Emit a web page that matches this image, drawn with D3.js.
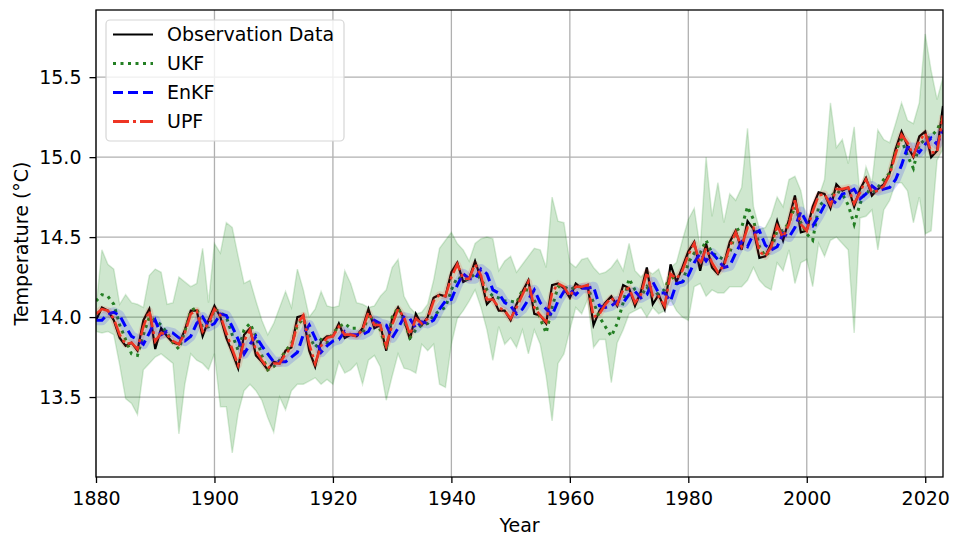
<!DOCTYPE html>
<html><head><meta charset="utf-8">
<script src="https://cdn.jsdelivr.net/npm/d3@7"></script>
<style>body{margin:0;background:#fff;} text{font-family:"DejaVu Sans",sans-serif;}</style>
</head><body><svg id="c" width="953" height="538"></svg>
<script>
const startYear = 1880;
const obsData = [
13.98,14.06,14.04,13.98,13.87,13.82,13.84,13.79,13.98,14.05,
13.80,13.93,13.88,13.84,13.83,13.92,14.04,14.04,13.88,13.98,
14.07,14.00,13.87,13.78,13.68,13.89,13.93,13.76,13.72,13.67,
13.72,13.71,13.79,13.81,14.00,14.01,13.79,13.69,13.85,13.88,
13.88,13.96,13.87,13.89,13.88,13.93,14.05,13.93,13.95,13.79,
13.99,14.06,13.99,13.86,14.02,13.95,14.00,14.12,14.14,14.13,
14.28,14.34,14.22,14.24,14.35,14.24,14.08,14.12,14.04,14.04,
13.98,14.08,14.16,14.23,14.02,14.01,13.96,14.20,14.21,14.18,
14.12,14.21,14.18,14.20,13.95,14.04,14.09,14.13,14.07,14.20,
14.18,14.07,14.16,14.31,14.08,14.14,14.05,14.33,14.22,14.31,
14.41,14.47,14.29,14.46,14.31,14.27,14.33,14.47,14.54,14.42,
14.60,14.55,14.37,14.38,14.46,14.60,14.48,14.61,14.76,14.53,
14.54,14.69,14.78,14.77,14.68,14.83,14.79,14.81,14.69,14.80,
14.87,14.76,14.80,14.83,14.90,15.05,15.16,15.07,15.00,15.13,
15.16,15.00,15.04,15.32];
const ukfData = [
14.10,14.14,14.13,14.08,13.95,13.86,13.77,13.76,13.89,14.00,
13.98,13.95,13.90,13.84,13.80,13.91,14.04,14.06,13.93,13.94,
14.05,14.03,14.00,13.89,13.79,13.92,13.96,13.88,13.76,13.67,
13.69,13.73,13.79,13.83,13.95,13.99,13.88,13.81,13.86,13.84,
13.90,13.94,13.96,13.93,13.93,13.89,14.02,13.97,13.92,13.80,
14.00,14.06,13.98,13.87,13.92,13.95,13.96,14.01,14.04,14.06,
14.17,14.25,14.23,14.24,14.27,14.24,14.17,14.13,14.12,14.10,
14.10,14.09,14.17,14.17,14.11,13.99,13.90,14.06,14.19,14.19,
14.17,14.19,14.19,14.19,14.09,14.00,13.94,13.88,13.96,14.09,
14.24,14.17,14.13,14.19,14.13,14.15,14.17,14.27,14.21,14.21,
14.34,14.40,14.40,14.48,14.40,14.38,14.36,14.40,14.54,14.56,
14.69,14.61,14.44,14.38,14.42,14.54,14.54,14.59,14.69,14.59,
14.52,14.48,14.69,14.73,14.75,14.79,14.77,14.70,14.58,14.71,
14.79,14.77,14.81,14.86,14.90,15.04,15.11,15.01,14.93,15.08,
15.11,15.13,15.17,15.25];
const ukfUpper = [
14.06,14.42,14.33,14.30,14.08,14.14,14.09,14.08,14.06,14.26,
14.30,14.28,14.08,14.09,14.25,14.22,14.19,14.21,14.43,14.09,
14.46,14.40,14.59,14.56,14.38,14.21,14.23,14.10,13.98,13.89,
13.96,14.06,14.16,14.06,14.30,14.17,14.00,14.05,14.16,14.07,
14.06,14.07,14.29,14.21,14.09,14.08,14.06,14.07,14.13,14.17,
14.31,14.36,14.13,14.06,14.02,14.03,14.08,14.23,14.43,14.48,
14.53,14.46,14.42,14.35,14.46,14.49,14.50,14.49,14.29,14.35,
14.38,14.28,14.33,14.38,14.43,14.42,14.31,14.75,14.60,14.59,
14.34,14.31,14.36,14.37,14.31,14.27,14.28,14.31,14.36,14.29,
14.46,14.29,14.25,14.29,14.27,14.30,14.19,14.31,14.34,14.48,
14.61,14.68,14.43,15.00,14.63,14.84,14.59,14.77,14.73,14.81,
15.18,14.69,14.55,14.56,14.63,14.75,14.69,14.86,14.88,14.79,
14.59,14.67,14.75,14.86,15.34,15.06,15.11,14.96,15.19,14.75,
14.94,14.84,15.17,15.11,15.09,15.21,15.34,15.23,15.21,15.34,
15.77,15.54,15.36,15.50];
const ukfLower = [
13.91,13.90,13.91,13.89,13.70,13.49,13.46,13.39,13.67,13.71,
13.75,13.77,13.74,13.71,13.27,13.58,13.77,13.73,13.71,13.67,
13.77,13.44,13.44,13.15,13.40,13.54,13.58,13.54,13.48,13.37,
13.28,13.50,13.42,13.54,13.58,13.58,13.60,13.62,13.58,13.61,
13.58,13.72,13.65,13.67,13.71,13.58,13.73,13.76,13.69,13.48,
13.63,13.77,13.68,13.67,13.65,13.83,13.79,13.83,13.58,13.56,
13.83,13.99,14.04,14.10,14.17,14.06,13.92,13.73,13.94,13.83,
13.87,13.81,13.92,13.77,13.92,13.83,13.63,13.35,13.71,13.77,
13.92,14.06,14.02,14.11,13.81,13.86,13.86,13.59,13.84,13.92,
14.02,14.04,14.06,14.00,14.06,14.02,14.04,14.11,14.04,14.00,
13.98,14.19,14.21,14.13,14.17,14.15,14.15,14.19,14.19,14.19,
14.23,14.31,14.23,14.19,14.17,14.34,14.29,14.42,14.21,14.34,
14.36,14.19,14.46,14.38,14.48,14.50,14.46,14.42,13.90,14.62,
14.63,14.67,14.42,14.67,14.73,14.84,14.84,14.79,14.59,14.75,
14.52,14.54,14.98,15.05];
const enkfData = [
13.98,13.98,14.02,14.03,14.01,13.94,13.88,13.86,13.83,13.90,
13.98,13.89,13.91,13.90,13.87,13.85,13.88,13.96,14.00,13.94,
13.96,14.02,14.01,13.94,13.86,13.77,13.83,13.88,13.82,13.77,
13.72,13.72,13.72,13.75,13.78,13.89,13.95,13.87,13.78,13.82,
13.85,13.86,13.91,13.89,13.89,13.89,13.91,13.98,13.96,13.95,
13.87,13.93,14.00,13.99,13.93,13.97,13.96,13.98,14.05,14.10,
14.11,14.20,14.27,14.24,14.24,14.30,14.27,14.17,14.15,14.09,
14.07,14.02,14.05,14.11,14.17,14.09,14.05,14.01,14.10,14.16,
14.17,14.14,14.18,14.18,14.19,14.07,14.06,14.07,14.10,14.09,
14.14,14.16,14.12,14.14,14.22,14.15,14.15,14.10,14.21,14.22,
14.26,14.34,14.40,14.35,14.40,14.36,14.31,14.32,14.40,14.47,
14.44,14.52,14.54,14.45,14.42,14.44,14.52,14.50,14.56,14.66,
14.59,14.57,14.63,14.70,14.74,14.71,14.77,14.78,14.80,14.74,
14.77,14.82,14.79,14.80,14.81,14.86,14.95,15.06,15.06,15.03,
15.08,15.12,15.08,15.17];
const upfData = [
14.02,14.05,14.04,13.99,13.89,13.83,13.84,13.80,13.94,14.04,
13.85,13.90,13.89,13.85,13.83,13.90,14.02,14.04,13.91,13.96,
14.05,14.01,13.90,13.80,13.70,13.85,13.92,13.79,13.73,13.68,
13.71,13.71,13.77,13.81,13.96,14.01,13.83,13.71,13.82,13.87,
13.88,13.94,13.89,13.89,13.88,13.92,14.03,13.95,13.95,13.82,
13.95,14.05,14.00,13.89,13.99,13.96,13.99,14.10,14.14,14.13,
14.25,14.33,14.24,14.24,14.33,14.26,14.11,14.11,14.06,14.04,
13.99,14.06,14.14,14.22,14.06,14.01,13.97,14.15,14.21,14.19,
14.13,14.19,14.19,14.20,14.00,14.02,14.08,14.12,14.08,14.17,
14.18,14.09,14.14,14.28,14.13,14.13,14.07,14.27,14.24,14.29,
14.39,14.46,14.33,14.43,14.34,14.28,14.32,14.44,14.53,14.44,
14.56,14.56,14.41,14.38,14.44,14.57,14.50,14.58,14.73,14.58,
14.54,14.66,14.76,14.77,14.70,14.80,14.80,14.81,14.71,14.78,
14.86,14.78,14.79,14.82,14.89,15.02,15.14,15.09,15.01,15.10,
15.15,15.03,15.03,15.26];
const xTicks = [1880,1900,1920,1940,1960,1980,2000,2020];
const yTicks = [13.5,14.0,14.5,15.0,15.5];
const legendLabels = ["Observation Data","UKF","EnKF","UPF"];

const years = obsData.map((_, i) => startYear + i);
const L=96,R=943,T=10,B=477;
const svg = d3.select("#c");
const x = d3.scaleLinear().domain([1880,2023]).range([L,R]);
const y = d3.scaleLinear().domain([13.0,15.92]).range([B,T]);
const FS = "19px";

svg.append("defs").append("clipPath").attr("id","clip")
  .append("rect").attr("x",L).attr("y",T).attr("width",R-L).attr("height",B-T);

// grid
const grid = svg.append("g").attr("stroke","#b0b0b0").attr("stroke-width",1.3);
xTicks.forEach(t=>grid.append("line").attr("x1",x(t)).attr("x2",x(t)).attr("y1",T).attr("y2",B));
yTicks.forEach(t=>grid.append("line").attr("x1",L).attr("x2",R).attr("y1",y(t)).attr("y2",y(t)));

const plot = svg.append("g").attr("clip-path","url(#clip)");
const idx = years.map((_,i)=>i);
const area = d3.area().x(i=>x(years[i])).y0(i=>y(ukfLower[i])).y1(i=>y(ukfUpper[i]));
plot.append("path").attr("d",area(idx)).attr("fill","green").attr("fill-opacity",0.19)
  .attr("stroke","green").attr("stroke-opacity",0.15).attr("stroke-width",1.5);

const line = d3.line().x((d,i)=>x(years[i])).y(d=>y(d));
plot.append("path").attr("d",line(obsData)).attr("fill","none").attr("stroke","#000").attr("stroke-width",2.2);
plot.append("path").attr("d",line(ukfData)).attr("fill","none").attr("stroke","#237f23").attr("stroke-width",3).attr("stroke-dasharray","3,4.5");
plot.append("path").attr("d",line(enkfData)).attr("fill","none").attr("stroke","blue").attr("stroke-opacity",0.15).attr("stroke-width",10).attr("stroke-linejoin","round");
plot.append("path").attr("d",line(enkfData)).attr("fill","none").attr("stroke","blue").attr("stroke-width",3).attr("stroke-dasharray","10,5");
plot.append("path").attr("d",line(upfData)).attr("fill","none").attr("stroke","#ee3524").attr("stroke-opacity",0.15).attr("stroke-width",7).attr("stroke-linejoin","round");
plot.append("path").attr("d",line(upfData)).attr("fill","none").attr("stroke","#ee3524").attr("stroke-width",2.6).attr("stroke-dasharray","16,4,3,4");

// frame
svg.append("rect").attr("x",L).attr("y",T).attr("width",R-L).attr("height",B-T)
  .attr("fill","none").attr("stroke","#000").attr("stroke-width",1.3);

// axes
const xa = svg.append("g").attr("transform",`translate(0,${B})`)
  .call(d3.axisBottom(x).tickValues(xTicks).tickSize(6).tickPadding(9).tickFormat(d3.format("d")));
const ya = svg.append("g").attr("transform",`translate(${L},0)`)
  .call(d3.axisLeft(y).tickValues(yTicks).tickSize(6.5).tickPadding(8).tickFormat(d3.format(".1f")));
[xa,ya].forEach(a=>{
  a.select(".domain").remove();
  a.selectAll(".tick line").attr("stroke","#000").attr("stroke-width",1.3);
  a.selectAll(".tick text").attr("fill","#000").style("font-size",FS).style("font-family","'DejaVu Sans',sans-serif");
});

svg.append("text").attr("x",(L+R)/2).attr("y",532).attr("text-anchor","middle")
  .style("font-size",FS).text("Year");
svg.append("text").attr("transform",`translate(28,${(T+B)/2}) rotate(-90)`).attr("text-anchor","middle")
  .style("font-size",FS).text("Temperature (°C)");

// legend
const lg = svg.append("g");
lg.append("rect").attr("x",106).attr("y",20).attr("width",238).attr("height",121).attr("rx",4)
  .attr("fill","#fff").attr("fill-opacity",0.8).attr("stroke","#d6d6d6").attr("stroke-width",1.2);
const styles = [
  {stroke:"#000", w:2.2, dash:null},
  {stroke:"#237f23", w:3, dash:"3,4.5"},
  {stroke:"blue", w:3, dash:"10,5"},
  {stroke:"#ee3524", w:3, dash:"16,4,3,4"}
];
const rowY = [34.5, 63.5, 92.5, 121.5];
legendLabels.forEach((lab,i)=>{
  const s = styles[i];
  const l = lg.append("line").attr("x1",113).attr("x2",153).attr("y1",rowY[i]).attr("y2",rowY[i])
    .attr("stroke",s.stroke).attr("stroke-width",s.w);
  if (s.dash) l.attr("stroke-dasharray",s.dash);
  lg.append("text").attr("x",167).attr("y",rowY[i]).attr("dy","0.36em").style("font-size",FS).text(lab);
});
</script></body></html>
